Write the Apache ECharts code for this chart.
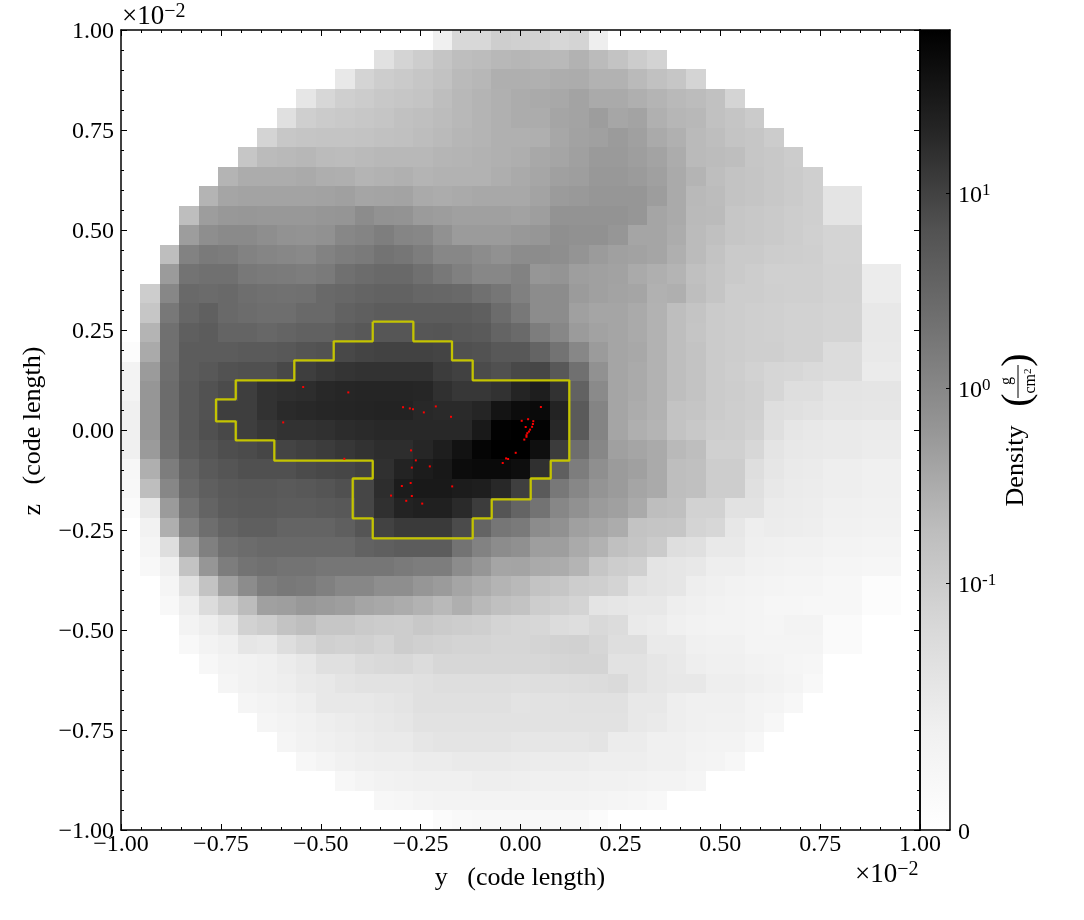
<!DOCTYPE html>
<html><head><meta charset="utf-8">
<style>html,body{margin:0;padding:0;background:#fff}#c{width:1084px;height:920px}</style>
<script src="https://cdn.jsdelivr.net/npm/echarts@6/dist/echarts.min.js"></script>
</head><body><div id="c"></div>
<script>
const rowStart = [16,13,11,9,8,7,6,5,4,3,3,2,2,1,1,1,0,0,0,0,0,0,0,0,0,1,1,1,2,2,3,3,4,5,6,7,8,9,11,13,16];
const row00 = [240,216,216,206,208,210,215,212,238];
const row01 = [225,212,205,197,190,188,184,182,184,185,178,187,195,204,211];
const row02 = [232,212,205,202,198,194,186,183,175,175,176,173,172,178,178,186,193,198,212];
const row03 = [230,215,207,204,200,198,196,190,184,180,176,172,170,168,163,170,170,175,180,185,188,193,212];
const row04 = [224,207,203,201,199,197,193,191,188,184,180,176,172,172,165,163,157,166,163,176,182,184,193,197,203];
const row05 = [212,199,197,196,196,195,193,192,189,186,182,180,176,176,175,167,162,160,155,160,170,176,186,190,196,198,204];
const row06 = [198,187,185,183,187,188,186,184,184,184,181,180,178,176,174,168,165,160,154,154,158,163,172,186,188,190,198,200,204];
const row07 = [180,172,172,172,170,174,175,180,178,176,180,178,178,178,174,170,166,160,158,152,152,155,160,170,180,190,195,197,200,203,207];
const row08 = [180,165,163,163,163,163,162,160,165,164,163,170,172,170,168,168,168,163,155,153,150,150,150,157,170,185,188,195,197,200,203,207,228,228];
const row09 = [190,157,152,151,152,152,152,150,149,140,146,147,155,157,160,160,160,162,158,147,147,147,147,150,165,170,186,187,198,200,202,205,207,228,228];
const row10 = [157,142,138,138,142,146,147,145,135,132,126,133,135,145,155,155,155,152,150,143,145,145,150,165,165,172,187,192,198,200,202,205,208,212,212];
const row11 = [190,130,122,124,130,133,135,137,130,125,122,115,118,125,135,135,140,145,140,140,142,148,155,160,162,165,175,187,195,202,202,205,206,207,212,212];
const row12 = [155,115,112,112,120,122,123,125,122,112,108,105,105,112,120,128,135,135,130,150,148,158,160,162,170,175,180,192,197,202,205,208,208,208,211,211,236,236];
const row13 = [205,135,105,107,105,110,112,113,112,105,103,100,98,98,102,103,105,112,118,128,140,140,155,160,163,165,177,175,190,197,205,205,207,208,208,211,211,236,236];
const row14 = [198,120,102,96,105,108,110,110,105,105,98,95,92,92,92,92,92,95,108,120,140,140,160,165,165,170,178,190,196,203,205,207,208,210,210,212,212,232,232];
const row15 = [180,112,95,92,100,100,103,100,97,97,92,88,86,86,86,85,88,90,100,106,125,135,155,162,165,170,178,190,197,203,205,207,208,210,210,212,212,232,232];
const row16 = [252,170,112,92,92,92,90,90,88,84,82,72,68,66,66,66,68,80,82,88,88,100,115,135,155,165,168,178,190,195,203,205,207,207,210,210,220,220,233,233];
const row17 = [243,155,110,92,88,82,80,80,72,62,56,52,50,50,50,50,60,65,75,80,72,70,88,112,145,165,170,178,190,195,203,206,210,214,215,218,220,220,235,235];
const row18 = [243,150,108,90,82,75,62,50,47,45,40,38,37,37,37,38,48,55,55,50,36,30,50,98,138,165,170,178,190,195,203,205,208,214,222,222,228,228,229,229];
const row19 = [240,150,108,90,82,62,62,50,42,40,38,37,36,35,35,40,42,42,37,20,12,10,35,90,132,165,172,178,195,197,203,206,208,222,224,226,229,229,230,230];
const row20 = [240,150,110,90,80,72,62,55,50,50,48,44,42,40,40,40,40,40,25,2,0,3,40,90,132,165,175,180,195,200,205,206,210,223,230,232,234,234,235,235];
const row21 = [240,155,112,92,85,78,75,70,68,64,60,55,50,45,45,38,30,18,5,0,0,15,60,110,135,160,165,170,185,190,208,208,215,228,232,233,234,234,236,236];
const row22 = [247,175,125,100,90,85,80,80,80,75,72,70,65,48,35,28,24,12,10,10,14,48,95,125,143,155,160,170,190,192,205,205,222,230,234,235,238,238,240,240];
const row23 = [248,190,135,105,95,90,88,88,90,88,85,80,70,45,28,25,25,28,30,40,63,90,120,135,148,155,165,170,190,192,205,205,224,232,235,236,238,238,240,240];
const row24 = [251,232,155,115,100,92,90,90,92,92,90,88,70,48,35,32,32,42,60,85,100,115,135,145,155,160,170,190,192,210,210,226,226,235,236,237,240,240,241,241];
const row25 = [242,175,128,110,100,95,95,100,100,100,95,85,66,58,58,58,75,100,118,122,140,145,160,165,172,195,197,198,212,215,231,238,236,237,238,241,241,242,242];
const row26 = [245,222,160,128,112,108,105,105,105,105,105,98,95,92,92,92,115,130,140,144,158,158,170,178,192,197,203,222,224,233,233,239,240,241,241,243,243,244,244];
const row27 = [248,240,195,150,125,115,112,115,115,118,118,118,118,122,125,125,140,150,165,164,170,172,180,198,205,208,228,230,232,238,238,241,242,243,243,245,245,246,246];
const row28 = [245,225,195,160,140,125,120,122,128,135,135,142,142,150,155,165,172,180,185,195,198,205,207,212,225,228,230,238,240,242,243,244,245,245,247,247,252,252];
const row29 = [248,238,220,204,188,160,158,152,155,158,165,168,172,178,185,175,185,192,195,205,208,212,228,230,232,232,238,240,242,243,244,246,246,247,247,247,252,252];
const row30 = [243,238,230,210,205,195,190,198,198,202,204,205,200,203,205,207,212,214,215,220,222,217,220,234,236,240,242,243,243,244,245,243,243,250,250];
const row31 = [248,243,240,230,232,222,215,208,210,208,212,205,208,210,212,212,214,214,212,210,209,214,222,222,234,234,240,241,241,244,244,244,244,250,250];
const row32 = [247,243,242,240,236,232,224,224,219,217,216,220,215,215,215,215,215,215,213,212,212,226,226,230,233,238,240,240,242,243,245,246];
const row33 = [245,242,240,238,234,232,228,226,226,226,224,222,222,222,222,223,222,222,221,220,218,226,230,232,232,238,238,240,242,244,248];
const row34 = [245,243,241,238,232,232,232,230,228,224,224,224,224,224,227,226,226,225,225,225,232,232,238,240,240,240,243,244,247];
const row35 = [245,243,241,238,236,234,232,230,226,226,226,226,226,226,226,226,226,226,226,232,234,238,240,241,241,243,247];
const row36 = [245,242,240,238,236,234,234,230,228,228,228,228,230,230,230,230,228,236,236,240,240,242,243,243,247];
const row37 = [247,244,241,239,238,238,236,236,234,234,234,235,236,236,236,238,238,238,240,240,243,244,247];
const row38 = [247,244,242,241,240,240,240,238,238,239,240,240,240,241,241,242,243,243,245];
const row39 = [247,246,244,243,243,243,243,243,243,243,243,244,245,246,248];
const row40 = [251,249,248,248,248,248,248,248,251];
const densityRows = [row00,row01,row02,row03,row04,row05,row06,row07,row08,row09,row10,row11,row12,row13,row14,row15,row16,row17,row18,row19,row20,row21,row22,row23,row24,row25,row26,row27,row28,row29,row30,row31,row32,row33,row34,row35,row36,row37,row38,row39,row40];

// Contour vertices (×10⁻² code length)
const contourY = [-0.3699,-0.2682,-0.2682,-0.1715,-0.1715,-0.1197,-0.1197,0.1222,0.1222,0.0756,0.0756,0.0255,0.0255,-0.0721,-0.0721,-0.1197,-0.1197,-0.3699,-0.3699,-0.42,-0.42,-0.3699,-0.3699,-0.6162,-0.6162,-0.7128,-0.7128,-0.7622,-0.7622,-0.7128,-0.7128,-0.5662,-0.5662,-0.4676,-0.4676,-0.3699,-0.3699];
const contourZ = [0.2708,0.2708,0.2218,0.2218,0.1743,0.1743,0.1243,0.1243,-0.0768,-0.0768,-0.1213,-0.1213,-0.1733,-0.1733,-0.2208,-0.2208,-0.2708,-0.2708,-0.2208,-0.2208,-0.1213,-0.1213,-0.0768,-0.0768,-0.0258,-0.0258,0.0218,0.0218,0.0768,0.0768,0.1243,0.1243,0.1743,0.1743,0.2218,0.2218,0.2708];

// Particles (×10⁻² code length)
const particleY = [-0.544,-0.431,-0.294,-0.277,-0.269,-0.242,-0.212,-0.174,-0.594,-0.274,-0.262,-0.272,-0.227,-0.297,-0.275,-0.171,-0.324,-0.272,-0.286,-0.246,-0.441,0.051,0.003,0.019,0.032,0.031,0.029,0.013,0.024,0.021,0.017,0.015,0.015,0.0095,-0.012,-0.036,-0.031,-0.0445];
const particleZ = [0.1075,0.094,0.057,0.054,0.052,0.044,0.059,0.033,0.019,-0.051,-0.076,-0.094,-0.091,-0.14,-0.1325,-0.141,-0.164,-0.165,-0.177,-0.184,-0.072,0.0575,0.023,0.027,0.022,0.015,0.008,0.0075,0.001,-0.004,-0.008,-0.013,-0.017,-0.024,-0.057,-0.071,-0.0725,-0.0825];

// Colour bar: tick positions on the bar (0–1) and their labels
const barTicks = [0, 0.3084, 0.552, 0.796];
const barTickLabels = ['{b|0}', '{b|10}{s|-1}', '{b|10}{s|0}', '{b|10}{s|1}'];
const greysStops = [[0,'#ffffff'],[0.125,'#f0f0f0'],[0.25,'#d9d9d9'],[0.375,'#bdbdbd'],[0.5,'#969696'],[0.625,'#737373'],[0.75,'#525252'],[0.875,'#252525'],[1,'#000000']];

const FONT = '"Liberation Serif", serif';
const N = densityRows.length;
const cells = [];
densityRows.forEach((r, j) => r.forEach((v, i) => cells.push([rowStart[j] + i, j, v])));
const edgeY = i => -1 + 2 * i / N;
const edgeZ = j => 1 - 2 * j / N;
const contour = contourY.map((y, i) => [y, contourZ[i]]);
const particles = particleY.map((y, i) => [y, particleZ[i]]);
const fmt = v => v.toFixed(2).replace('-', '\u2212');
const line = {show: true, onZero: false, lineStyle: {color: '#000', width: 1.5}};

function valAxis(pos, isLabel, isX) {
  return {
    type: 'value', gridIndex: 0, position: pos, min: -1, max: 1, interval: 0.25, z: 10,
    axisLine: line, splitLine: {show: false},
    axisTick: {show: true, inside: true, length: 6, lineStyle: {color: '#000', width: 1}},
    minorTick: {show: true, splitNumber: 5, length: 3, lineStyle: {color: '#000', width: 1}},
    minorSplitLine: {show: false},
    axisLabel: {show: isLabel, formatter: v => '{a|' + fmt(v) + '}', fontFamily: FONT, fontSize: 24, color: '#000',
      margin: isX ? 3 : 7, padding: isX ? 0 : [4, 0, 0, 0], showMinLabel: true, showMaxLabel: true, hideOverlap: false,
      rich: {a: {fontFamily: FONT, fontSize: 24, color: '#000'}}}
  };
}
const barLine = pos => ({type: 'category', gridIndex: 1, data: ['bar'], position: pos, z: 10,
  axisLine: line, axisTick: {show: false}, axisLabel: {show: false}});

function renderCell(params, api) {
  const c = api.value(0), r = api.value(1);
  const x0 = Math.round(api.coord([edgeY(c), 0])[0]);
  const x1 = Math.round(api.coord([edgeY(c + 1), 0])[0]);
  const y0 = Math.round(api.coord([0, edgeZ(r)])[1]);
  const y1 = Math.round(api.coord([0, edgeZ(r + 1)])[1]);
  return {type: 'rect', shape: {x: x0, y: y0, width: x1 - x0, height: y1 - y0},
    style: {fill: api.visual('color')}};
}

const option = {
  animation: false,
  backgroundColor: '#fff',
  grid: [
    {left: 121, top: 30, width: 799, height: 800, containLabel: false},
    {left: 920, top: 30, width: 30, height: 800, containLabel: false}
  ],
  xAxis: [
    valAxis('bottom', true, true),
    valAxis('top', false, true),
    barLine('bottom'),
    barLine('top')
  ],
  yAxis: [
    valAxis('left', true, false),
    valAxis('right', false, false),
    {type: 'value', gridIndex: 1, position: 'right', min: 0, max: 1, z: 10, axisLine: line,
      splitLine: {show: false},
      axisTick: {show: true, inside: true, length: 4, customValues: barTicks, lineStyle: {color: '#000', width: 1}},
      axisLabel: {show: true, margin: 8, customValues: barTicks, fontFamily: FONT, fontSize: 24, color: '#000',
        showMinLabel: true, showMaxLabel: true, padding: [3, 0, 0, 0],
        formatter: v => barTickLabels[barTicks.indexOf(v)] || '',
        rich: {b: {fontFamily: FONT, fontSize: 24, color: '#000', verticalAlign: 'bottom', lineHeight: 26},
               s: {fontFamily: FONT, fontSize: 17, color: '#000', verticalAlign: 'top', lineHeight: 26, padding: [0,0,8,0]}}}},
    {type: 'value', gridIndex: 1, position: 'left', min: 0, max: 1, z: 10, axisLine: line,
      splitLine: {show: false}, axisTick: {show: false}, axisLabel: {show: false}}
  ],
  visualMap: {show: false, type: 'continuous', seriesIndex: 0, dimension: 2, min: 0, max: 255,
    inRange: {color: ['#000000', '#ffffff']}},
  series: [
    {type: 'custom', xAxisIndex: 0, yAxisIndex: 0, data: cells, renderItem: renderCell, progressive: 0, silent: true, clip: false, z: 1,
      dimensions: ['col', 'row', 'shade'], encode: {x: [], y: []}},
    {type: 'line', xAxisIndex: 0, yAxisIndex: 0, data: contour, symbol: 'none', silent: true, z: 3,
      lineStyle: {color: '#c4c400', width: 2.3}},
    {type: 'scatter', xAxisIndex: 0, yAxisIndex: 0, data: particles, symbol: 'rect', symbolSize: 2, silent: true, z: 4,
      itemStyle: {color: '#ff0000', opacity: 1}},
    {type: 'bar', xAxisIndex: 2, yAxisIndex: 2, data: [1], barWidth: '100%', silent: true, z: 1,
      itemStyle: {color: {type: 'linear', x: 0, y: 1, x2: 0, y2: 0,
        colorStops: greysStops.map(s => ({offset: s[0], color: s[1]}))}}}
  ],
  graphic: [
    {type: 'text', x: 122, y: 17, style: {text: '\u00d710{s|\u22122}', font: '27px ' + FONT, fill: '#000', verticalAlign: 'middle',
      rich: {s: {font: '20px ' + FONT, fill: '#000', padding: [0,0,11,0]}}}},
    {type: 'text', x: 855, y: 875, style: {text: '\u00d710{s|\u22122}', font: '27px ' + FONT, fill: '#000', verticalAlign: 'middle',
      rich: {s: {font: '20px ' + FONT, fill: '#000', padding: [0,0,11,0]}}}},
    {type: 'text', x: 520, y: 878, style: {text: 'y\u00a0\u00a0\u00a0(code length)', font: '26px ' + FONT, fill: '#000', align: 'center', verticalAlign: 'middle'}},
    {type: 'text', x: 33, y: 431, rotation: Math.PI / 2, style: {text: 'z\u00a0\u00a0\u00a0(code length)', font: '26px ' + FONT, fill: '#000', align: 'center', verticalAlign: 'middle'}},
    {type: 'text', x: 1016, y: 466, rotation: Math.PI / 2, style: {text: 'Density', font: '26px ' + FONT, fill: '#000', align: 'center', verticalAlign: 'middle'}},
    {type: 'text', x: 1018, y: 400, rotation: Math.PI / 2, style: {text: '(', font: '40px ' + FONT, fill: '#000', align: 'center', verticalAlign: 'middle'}},
    {type: 'text', x: 1018, y: 360, rotation: Math.PI / 2, style: {text: ')', font: '40px ' + FONT, fill: '#000', align: 'center', verticalAlign: 'middle'}},
    {type: 'text', x: 1007, y: 381, rotation: Math.PI / 2, style: {text: 'g', font: '16px ' + FONT, fill: '#000', align: 'center', verticalAlign: 'middle'}},
    {type: 'text', x: 1031, y: 381, rotation: Math.PI / 2, style: {text: 'cm{s|2}', font: '16px ' + FONT, fill: '#000', align: 'center', verticalAlign: 'middle',
      rich: {s: {font: '11px ' + FONT, fill: '#000', padding: [0,0,6,0]}}}},
    {type: 'line', shape: {x1: 1018, y1: 365, x2: 1018, y2: 398}, style: {stroke: '#000', lineWidth: 1}}
  ]
};
echarts.init(document.getElementById('c'), null, {renderer: 'canvas'}).setOption(option);
</script></body></html>
